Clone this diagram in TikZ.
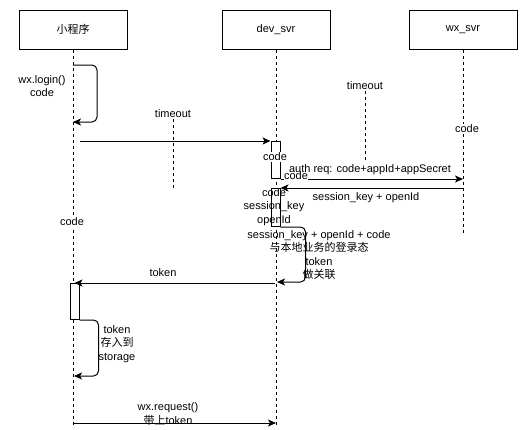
\documentclass[tikz,border=0pt]{standalone}
\usepackage{fontspec}
\setmainfont{Liberation Sans}
\newfontfamily\cjk{Noto Sans CJK SC}
\usetikzlibrary{arrows.meta,positioning}

\begin{document}
\begin{tikzpicture}[x=1pt,y=-1pt,
  font=\fontsize{11}{13.5}\selectfont,
  actor/.style={draw=black,line width=1pt,minimum width=108pt,minimum height=39pt,inner sep=0pt},
  life/.style={draw=black,line width=1pt,dash pattern=on 3pt off 3pt},
  act/.style={draw=black,fill=white,line width=1pt,minimum width=9pt,inner sep=0pt,anchor=north},
  msg/.style={-{Stealth[length=8pt,width=7pt,inset=2pt]},line width=1pt},
  loopmsg/.style={msg,rounded corners=5pt},
  lbl/.style={align=center,inner sep=0.5pt},
  wlbl/.style={lbl,fill=white}]
\useasboundingbox (0,0) rectangle (525,429);
% lifeline heads
\node[actor] (mini) at (73,29.5) {\cjk 小程序};
\node[actor,right=94pt of mini] (dev) {dev\_svr};
\node[actor,right=78pt of dev] (wx) {wx\_svr};
\coordinate (bottom) at (0,425);
\coordinate (wxbottom) at (0,235);
\draw[life] (mini.south) -- (mini.south |- bottom);
\draw[life] (dev.south) -- (dev.south |- bottom);
\draw[life] (wx.south) -- (wx.south |- wxbottom);
% timeouts
\node[lbl] (to1) at (173,114) {timeout};
\coordinate (to1-end) at (173,188);
\draw[life] (to1.south) -- (to1-end);
\node[lbl] (to2) at (365,86) {timeout};
\coordinate (to2-end) at (365,160);
\draw[life] (to2.south) -- (to2-end);
% activations
\node[act,minimum height=37pt] (act1) at (275.5,141) {};
\node[act,minimum height=38pt] (act2) at (275.5,188) {};
\node[act,minimum height=36pt] (act3) at (74.5,283) {};
% login
\coordinate (login-a) at (73,65);
\coordinate (login-b) at (73,122);
\draw[loopmsg] (login-a) -- ++(24,0) |- (login-b);
\node[lbl] (login) at (42,86) {wx.login()\\code};
\coordinate (m1-start) at (80,141);
\draw[msg] (m1-start) -- (act1.north west);
\node[wlbl] (c1) at (275,157) {code};
\node[wlbl] (c2) at (467,129) {code};
\node[wlbl] (c3) at (72,222) {code};
% auth request and reply
\draw[msg] (act1.south east) -- (wx.south |- act1.south);
\node[lbl] (auth) at (370,170) {auth req: code+appId+appSecret};
\node[wlbl,inner sep=0pt] (c4) at (296,176) {code};
\draw[msg] (wx.south |- act2.north) -- (act2.north east);
\node[lbl] (reply) at (366,198) {session\_key + openId};
\node[lbl] (keys) at (274,207) {code\\session\_key\\openId};
\coordinate (bind-end) at (277,282);
\draw[loopmsg] (act2.south east) -- ++(25,0) |- (bind-end);
\node[lbl] (bind) at (319,255) {session\_key + openId + code\\{\cjk 与本地业务的登录态}\\token\\{\cjk 做关联}};
% token back to mini program
\coordinate (tok-start) at (275,283);
\draw[msg] (tok-start) -- (act3.north);
\node[lbl] (tok) at (163,273) {token};
\coordinate (store-end) at (74,376);
\draw[loopmsg] (act3.south east) -- ++(19,0) |- (store-end);
\node[lbl] (store) at (117,344) {token\\{\cjk 存入到}\\storage};
% request
\coordinate (req-a) at (73,423);
\coordinate (req-b) at (276,423);
\draw[msg] (req-a) -- (req-b);
\node[lbl] (req) at (168,414) {wx.request()\\{\cjk 带上}token};
\end{tikzpicture}
\end{document}
